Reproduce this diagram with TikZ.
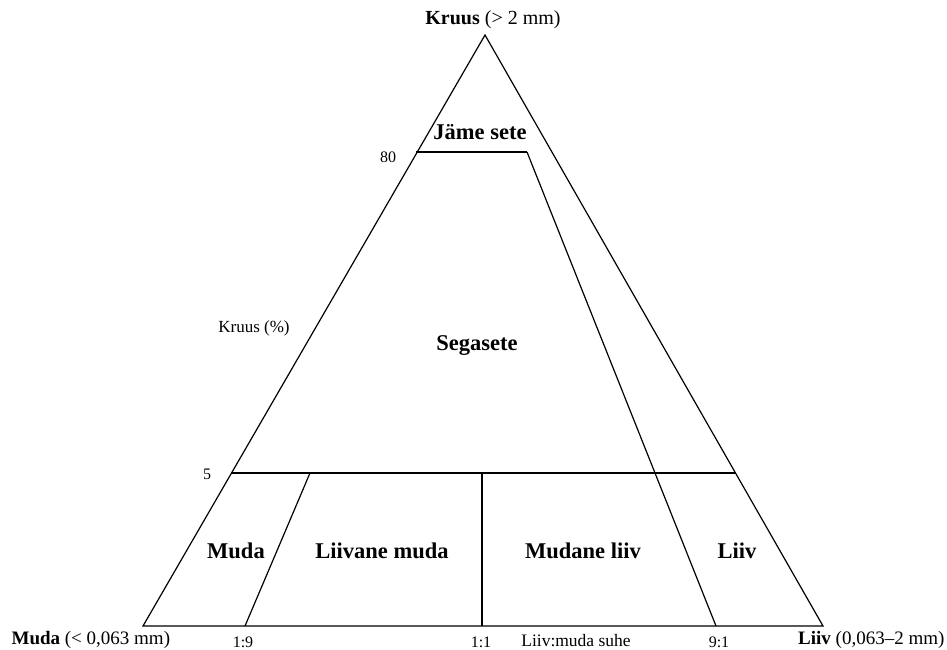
\documentclass[tikz,border=0pt]{standalone}
\usepackage{fontspec}
\setmainfont{Liberation Serif}
\usetikzlibrary{positioning}

\begin{document}
\begin{tikzpicture}[x=1pt,y=-1pt,line width=1.2pt,
                    field/.style={font=\fontsize{22.5}{24}\selectfont\bfseries},
                    small/.style={font=\fontsize{16}{18}\selectfont},
                    corner/.style={font=\fontsize{19}{22}\selectfont}]
	  \useasboundingbox (0,0) rectangle (947,650);

	  % corners of the triangle
	  \coordinate (K) at (485,35);
	  \coordinate (M) at (143,626);
	  \coordinate (L) at (823,626);

	  % boundaries
	  \coordinate (A80) at (416,152);
	  \coordinate (B80) at (527,152);
	  \coordinate (A5)  at (231,473);
	  \coordinate (B5)  at (735,473);
	  \coordinate (R19) at (245,626);
	  \coordinate (T19) at (310,473);
	  \coordinate (R11) at (482,626);
	  \coordinate (T11) at (482,473);
	  \coordinate (R91) at (716,626);

	  \draw (M) -- (K) -- (L) -- cycle;
	  \path[draw] (A80) edge (B80)
	        (B80) edge (R91)
	        (A5) edge (B5)
	        (R19) edge (T19)
	        (R11) edge (T11);

	  % field names
	  \node[field] (jame) at (480,132) {Jäme sete};
	  \node[field] (sega) at (477,346) {Segasete};
	  \node[field] (muda) at (236,551) {Muda};
	  \node[field] (lmuda) at (382,551) {Liivane muda};
	  \node[field] (mliiv) at (583,551) {Mudane liiv};
	  \node[field] (liiv) at (737,551) {Liiv};

	  % axis labels
	  \node[corner,font=\fontsize{20}{22}\selectfont,anchor=base] (top) at (493,25) {\textbf{Kruus} (> 2 mm)};
	  \node[corner,anchor=base west,inner sep=1pt] (left) at (10,644) {\textbf{Muda} (< 0,063 mm)};
	  \node[corner,anchor=base east,inner sep=1pt] (right) at (946,644) {\textbf{Liiv} (0,063–2 mm)};
	  \node[small] (p80) at (388,157) {80};
	  \node[small] (p5) at (207,474) {5};
	  \node[small,font=\fontsize{17}{19}\selectfont] (kr) at (254,328) {Kruus (\%)};
	  \node[small,anchor=base,inner sep=1pt] (q19) at (243,647) {1:9};
	  \node[small,anchor=base,inner sep=1pt] (q11) at (481,647) {1:1};
	  \node[small,anchor=base,inner sep=1pt] (q91) at (719,647) {9:1};
	  \node[small,font=\fontsize{17.5}{19}\selectfont,anchor=base,inner sep=1pt] (suhe) at (576,646) {Liiv:muda suhe};
\end{tikzpicture}
\end{document}
